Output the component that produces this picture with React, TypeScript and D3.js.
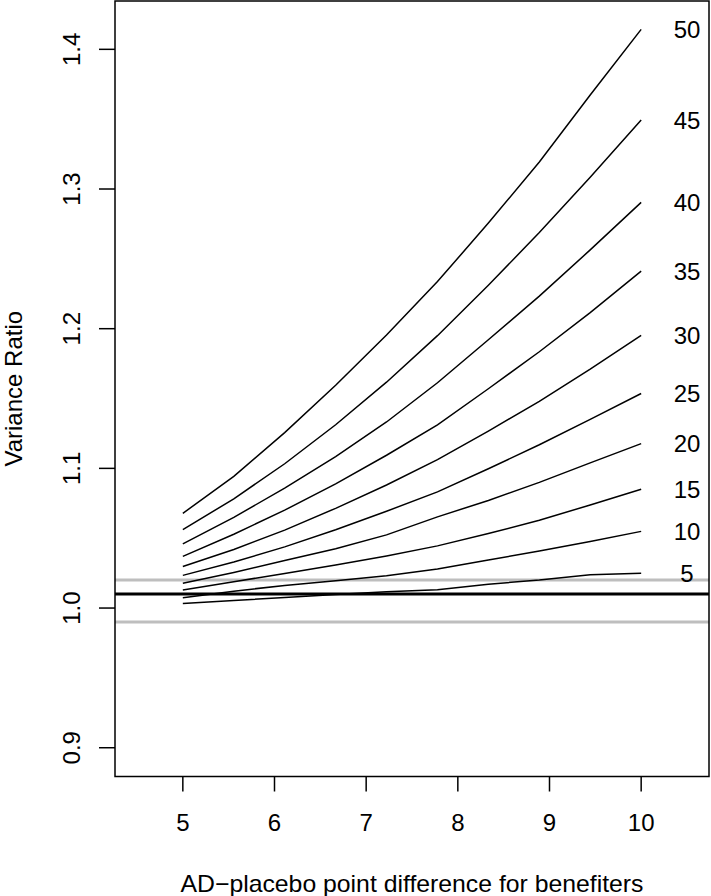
import * as d3 from 'd3';
import React from 'react';

// x positions of the simulated points (AD-placebo point difference)
const pointDiff = [5, 5.556, 6.111, 6.667, 7.222, 7.778, 8.333, 8.889, 9.444, 10];

// variance ratio for each % of benefiters
const ratio5 = [1.0033, 1.0054, 1.0076, 1.0097, 1.0117, 1.0131, 1.0171, 1.02, 1.0238, 1.025];
const ratio10 = [1.0074, 1.0121, 1.0162, 1.0195, 1.0232, 1.028, 1.0344, 1.0408, 1.0477, 1.0549];
const ratio15 = [1.013, 1.0188, 1.0248, 1.0309, 1.0373, 1.0445, 1.0533, 1.0628, 1.0738, 1.085];
const ratio20 = [1.0177, 1.0255, 1.0341, 1.0425, 1.0524, 1.0653, 1.077, 1.09, 1.1039, 1.1177];
const ratio25 = [1.0234, 1.0329, 1.0438, 1.0561, 1.0693, 1.0832, 1.0997, 1.1169, 1.1351, 1.1536];
const ratio30 = [1.0298, 1.0419, 1.0558, 1.0714, 1.0881, 1.1063, 1.1267, 1.148, 1.171, 1.1953];
const ratio35 = [1.037, 1.0528, 1.0701, 1.0889, 1.1094, 1.1312, 1.157, 1.1835, 1.2115, 1.2412];
const ratio40 = [1.046, 1.0649, 1.0859, 1.1084, 1.1332, 1.1613, 1.1921, 1.2233, 1.2564, 1.2904];
const ratio45 = [1.0561, 1.0782, 1.1033, 1.1312, 1.1617, 1.195, 1.2311, 1.2688, 1.3085, 1.3494];
const ratio50 = [1.0678, 1.0943, 1.1256, 1.1595, 1.1955, 1.2337, 1.2756, 1.3193, 1.3673, 1.4143];

const seriesLabels = ['5', '10', '15', '20', '25', '30', '35', '40', '45', '50'];
const seriesValues = [ratio5, ratio10, ratio15, ratio20, ratio25, ratio30, ratio35, ratio40, ratio45, ratio50];

const xTicks = [5, 6, 7, 8, 9, 10];
const yTicks = [0.9, 1.0, 1.1, 1.2, 1.3, 1.4];
const refGray = [0.99, 1.02];
const refBlack = 1.01;

const xTitle = 'AD\u2212placebo point difference for benefiters';
const yTitle = 'Variance Ratio';

const W = 711;
const H = 896;
const left = 115, right = 709, top = 1, bottom = 776.5;
const font = '"Liberation Sans", Arial, Helvetica, sans-serif';
const fs = 24;

export default function App() {
  const x = d3.scaleLinear().domain([4.26, 10.74]).range([left, right]);
  const y = d3.scaleLinear().domain([0.8794, 1.4346]).range([bottom, top]);

  const line = d3.line<number>()
    .x((d, i) => x(pointDiff[i]))
    .y(d => y(d));

  return (
    <svg width={W} height={H} style={{ position: 'absolute', left: 0, top: 0, display: 'block', background: '#fff' }}
      fontFamily={font}>
      {/* reference lines */}
      {refGray.map(v => (
        <line key={v} x1={left} x2={right} y1={y(v)} y2={y(v)} stroke="#bebebe" strokeWidth={3} />
      ))}
      <line x1={left} x2={right} y1={y(refBlack)} y2={y(refBlack)} stroke="#000" strokeWidth={3} />

      {seriesValues.map((vals, k) => (
        <g key={seriesLabels[k]}>
          <path d={line(vals) || ''} fill="none" stroke="#000" strokeWidth={1.5} />
          <text x={x(10.5)} y={y(vals[vals.length - 1])} dy="0.36em" textAnchor="middle" fontSize={fs}>
            {seriesLabels[k]}
          </text>
        </g>
      ))}

      {/* box */}
      <rect x={left} y={top} width={right - left} height={bottom - top} fill="none" stroke="#000" strokeWidth={1.5} />

      {/* x axis */}
      {xTicks.map(t => (
        <g key={t}>
          <line x1={x(t)} x2={x(t)} y1={bottom} y2={bottom + 15} stroke="#000" strokeWidth={1.5} />
          <text x={x(t)} y={822.5} dy="0.36em" textAnchor="middle" fontSize={fs}>{t}</text>
        </g>
      ))}
      <text x={(left + right) / 2} y={883} dy="0.36em" textAnchor="middle" fontSize={fs}
        textLength={463} lengthAdjust="spacingAndGlyphs">{xTitle}</text>

      {/* y axis */}
      {yTicks.map(t => (
        <g key={t}>
          <line x1={left - 16} x2={left} y1={y(t)} y2={y(t)} stroke="#000" strokeWidth={1.5} />
          <text transform={`translate(80,${y(t)}) rotate(-90)`} textAnchor="middle" fontSize={fs}>
            {t.toFixed(1)}
          </text>
        </g>
      ))}
      <text transform={`translate(22,${(top + bottom) / 2}) rotate(-90)`} textAnchor="middle" fontSize={fs}>
        {yTitle}
      </text>
    </svg>
  );
}
